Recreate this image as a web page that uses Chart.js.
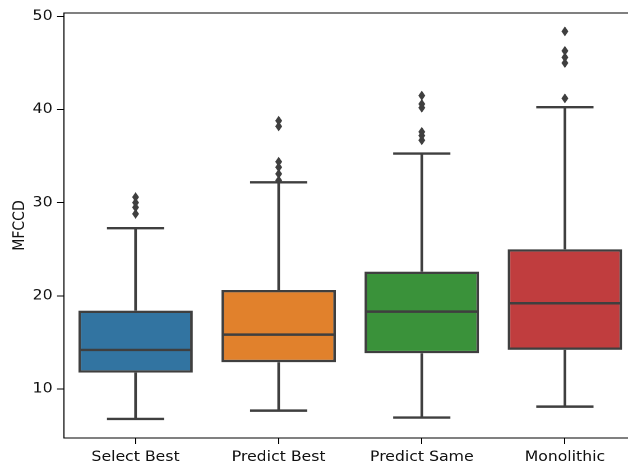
<!DOCTYPE html>
<html>
<head>
<meta charset="utf-8">
<script src="https://cdn.jsdelivr.net/npm/chart.js@4/dist/chart.umd.min.js"></script>
<style>
  html, body { margin: 0; padding: 0; overflow: hidden; background: #ffffff; }
  #chart { display: block; width: 628px !important; height: 464px !important; }
</style>
</head>
<body>
<canvas id="chart" width="560" height="464" style="width:628px;height:464px"></canvas>
<script>
// Box-plot summary per group
const categories = ['Select Best', 'Predict Best', 'Predict Same', 'Monolithic'];
const q1 = [11.75, 12.87, 13.83, 14.19];
const medians = [14.19, 15.83, 18.30, 19.20];
const q3 = [18.41, 20.63, 22.60, 25.00];
const whiskerLow = [6.78, 7.67, 6.92, 8.10];
const whiskerHigh = [27.26, 32.19, 35.27, 40.26];
const outliersSelectBest = [28.8, 29.5, 30.0, 30.6];
const outliersPredictBest = [32.4, 33.1, 33.8, 34.4, 38.2, 38.8];
const outliersPredictSame = [36.7, 37.2, 37.6, 40.2, 40.6, 41.5];
const outliersMonolithic = [41.2, 45.0, 45.6, 46.3, 48.4];
const yTicks = [10, 20, 30, 40, 50];
const xTicks = [0, 1, 2, 3];

const boxColors = ['#3274a1', '#e1812c', '#3a923a', '#c03d3e'];
const lineColor = '#3f3f3f';
const textColor = '#111111';
const FONT = 'DejaVu Sans';
const LINE_W = 2.4;

const outlierGroups = [outliersSelectBest, outliersPredictBest, outliersPredictSame, outliersMonolithic];
const outlierPoints = [];
outlierGroups.forEach((vals, i) => vals.forEach(v => outlierPoints.push({ x: i, y: v })));

// Whiskers, caps, medians, thin-diamond fliers and the top spine
const boxPlotLines = {
  id: 'boxPlotLines',
  afterDatasetsDraw(chart) {
    const { ctx, scales: { x, y }, chartArea } = chart;
    const boxes = chart.getDatasetMeta(0).data;
    ctx.save();
    ctx.strokeStyle = lineColor;
    ctx.lineWidth = LINE_W;
    ctx.lineCap = 'butt';
    categories.forEach((cat, i) => {
      const cx = x.getPixelForValue(i);
      const half = boxes[i].width / 2;
      const capHalf = half / 2;
      const yq1 = y.getPixelForValue(q1[i]);
      const yq3 = y.getPixelForValue(q3[i]);
      const ylo = y.getPixelForValue(whiskerLow[i]);
      const yhi = y.getPixelForValue(whiskerHigh[i]);
      const ymed = y.getPixelForValue(medians[i]);
      ctx.beginPath();
      ctx.moveTo(cx, yq3); ctx.lineTo(cx, yhi);
      ctx.moveTo(cx, yq1); ctx.lineTo(cx, ylo);
      ctx.moveTo(cx - capHalf, yhi); ctx.lineTo(cx + capHalf, yhi);
      ctx.moveTo(cx - capHalf, ylo); ctx.lineTo(cx + capHalf, ylo);
      ctx.moveTo(cx - half + 1, ymed); ctx.lineTo(cx + half - 1, ymed);
      ctx.stroke();
    });

    ctx.fillStyle = lineColor;
    chart.getDatasetMeta(1).data.forEach(pt => {
      const w = 3.1, h = 5;
      ctx.beginPath();
      ctx.moveTo(pt.x, pt.y - h);
      ctx.lineTo(pt.x + w, pt.y);
      ctx.lineTo(pt.x, pt.y + h);
      ctx.lineTo(pt.x - w, pt.y);
      ctx.closePath();
      ctx.fill();
    });

    ctx.strokeStyle = '#000000';
    ctx.lineWidth = 1;
    ctx.beginPath();
    ctx.moveTo(chartArea.left, chartArea.top);
    ctx.lineTo(chart.width, chartArea.top);
    ctx.stroke();
    ctx.restore();
  }
};

new Chart(document.getElementById('chart'), {
  type: 'bar',
  data: {
    datasets: [
      {
        type: 'bar',
        data: categories.map((c, i) => ({ x: i, y: [q1[i], q3[i]] })),
        backgroundColor: boxColors,
        borderColor: lineColor,
        borderWidth: LINE_W,
        borderSkipped: false,
        barPercentage: 0.8,
        categoryPercentage: 1.0,
        order: 2
      },
      {
        type: 'line',
        data: outlierPoints,
        showLine: false,
        pointRadius: 0,
        order: 1
      }
    ]
  },
  plugins: [boxPlotLines],
  options: {
    responsive: false,
    devicePixelRatio: 2,
    animation: false,
    events: [],
    clip: false,
    layout: { padding: { top: 13, right: 0, left: 0, bottom: 0 } },
    plugins: { legend: { display: false }, tooltip: { enabled: false } },
    scales: {
      x: {
        type: 'linear',
        min: -0.5,
        max: 3.441,
        offset: false,
        grid: { display: true, drawOnChartArea: false, drawTicks: true, tickLength: 6, offset: false, color: '#000000' },
        border: { display: true, color: '#000000', width: 1 },
        ticks: {
          color: textColor, font: { family: FONT, size: 14 }, padding: 5, maxRotation: 0, autoSkip: false,
          callback: v => categories[v]
        },
        afterBuildTicks(scale) { scale.ticks = xTicks.map(v => ({ value: v })); },
        afterFit(scale) { scale.height = 26; }
      },
      y: {
        min: 4.73,
        max: 50.37,
        grid: { display: true, drawOnChartArea: false, drawTicks: true, tickLength: 6.2, color: '#000000' },
        border: { display: true, color: '#000000', width: 1 },
        ticks: { color: textColor, font: { family: FONT, size: 14 }, padding: 4 },
        afterBuildTicks(scale) { scale.ticks = yTicks.map(v => ({ value: v })); },
        title: { display: true, text: 'MFCCD', color: textColor, font: { family: FONT, size: 14 }, padding: { top: 9.5, bottom: 0 } },
        afterFit(scale) { scale.width = 57.07; }
      }
    }
  }
});
</script>
</body>
</html>
